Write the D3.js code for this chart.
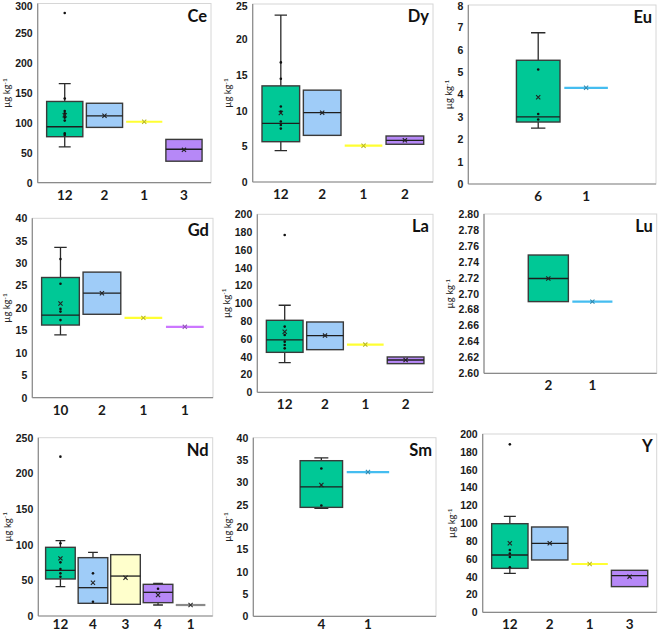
<!DOCTYPE html>
<html lang="en">
<head>
<meta charset="UTF-8">
<title>REE box plots</title>
<script src="https://cdn.jsdelivr.net/npm/d3@7"></script>
<style>
  body { margin: 0; background: #fff; }
  svg { display: block; font-family: Lato, "Open Sans", sans-serif; }
  .tick text { font-size: 10.5px; font-weight: 700; fill: #1a1a1a; }
  .xlab { font-size: 13.5px; font-weight: 700; fill: #1a1a1a; text-anchor: middle; }
  .title { font-size: 16.5px; font-weight: 700; fill: #111; text-anchor: end; }
  .ylab { font-size: 9.5px; fill: #222; text-anchor: middle; }
  .frame { fill: none; stroke: #d6d6d6; stroke-width: 1; }
  .axis-line { stroke: #8a8a8a; stroke-width: 1.2; }
  .box { stroke: #3a3a3a; stroke-width: 1.4; }
  .whisker { stroke: #2a2a2a; stroke-width: 1.3; fill: none; }
  .median { stroke: #1e1e1e; stroke-width: 1.3; }
  .pt { fill: #111; }
</style>
</head>
<body>
<div id="chart"></div>
<script>
// ---- data ----
// box = [whisker low, Q1, median, Q3, whisker high]; single value = one sample
var ceLabels = ["12", "2", "1", "3"];
var ceBoxes = [[60, 77, 93.7, 136, 166], [92.6, 92.6, 112, 133, 133], [102], [36, 36, 56, 72.5, 72.5]];
var ceMeans = [113, 112, 102, 55];
var cePoints = [[284, 141, 120, 116, 112, 109, 104, 82.5, 80], [], [], []];
var ceTicks = [0, 50, 100, 150, 200, 250, 300];

var dyLabels = ["12", "2", "1", "2"];
var dyBoxes = [[4.4, 5.66, 8.24, 13.5, 23.45], [6.55, 6.55, 9.74, 12.9, 12.9], [5.1], [5.3, 5.3, 5.85, 6.46, 6.46]];
var dyMeans = [9.7, 9.74, 5.1, 5.85];
var dyPoints = [[16.8, 14.5, 10.6, 9.9, 8.5, 8.0, 7.5], [], [], []];
var dyTicks = [0, 5, 10, 15, 20, 25];

var euLabels = ["6", "1"];
var euBoxes = [[2.5, 2.77, 3.0, 5.53, 6.76], [4.3]];
var euMeans = [3.88, 4.3];
var euPoints = [[5.12, 3.13, 2.88], []];
var euTicks = [0, 1, 2, 3, 4, 5, 6, 7, 8];

var gdLabels = ["10", "2", "1", "1"];
var gdBoxes = [[14.0, 16.2, 18.4, 26.8, 33.5], [18.6, 18.6, 23.3, 28.0, 28.0], [17.8], [15.8]];
var gdMeans = [21.0, 23.3, 17.8, 15.8];
var gdPoints = [[30.9, 25.4, 19.8, 19.2, 17.3], [], [], []];
var gdTicks = [0, 5, 10, 15, 20, 25, 30, 35, 40];

var laLabels = ["12", "2", "1", "2"];
var laBoxes = [[33.3, 44.9, 58.8, 80.9, 97.8], [47.9, 47.9, 63.7, 79, 79], [53.6], [32.2, 32.2, 36.3, 39.7, 39.7]];
var laMeans = [68, 63.7, 53.6, 36.3];
var laPoints = [[176.8, 73.8, 64.4, 56.9, 53.2, 49.4], [], [], []];
var laTicks = [0, 20, 40, 60, 80, 100, 120, 140, 160, 180, 200];

var luLabels = ["2", "1"];
var luBoxes = [[2.690, 2.690, 2.719, 2.7485, 2.7485], [2.690]];
var luMeans = [2.719, 2.690];
var luPoints = [[], []];
var luTicks = [2.60, 2.62, 2.64, 2.66, 2.68, 2.70, 2.72, 2.74, 2.76, 2.78, 2.80];

var ndLabels = ["12", "4", "3", "4", "1"];
var ndBoxes = [[41.1, 51.9, 64, 96.3, 105.6], [17.8, 17.8, 39.7, 81.8, 89.3], [16.4, 16.4, 56, 86, 86], [15.4, 18.7, 33.2, 44.4, 45.8], [15.4]];
var ndMeans = [80.8, 46.7, 53.7, 29.4, 15.4];
var ndPoints = [[223.4, 101.9, 75.2, 65.9, 59.8, 55.1], [59.8, 20], [], [38.3], []];
var ndTicks = [0, 50, 100, 150, 200, 250];

var smLabels = ["4", "1"];
var smBoxes = [[24.2, 24.4, 29.0, 34.85, 35.5], [32.3]];
var smMeans = [29.4, 32.3];
var smPoints = [[33.1, 24.8], []];
var smTicks = [0, 5, 10, 15, 20, 25, 30, 35, 40];

var yLabels = ["12", "2", "1", "3"];
var yBoxes = [[43.7, 49.3, 64.3, 99.4, 107.7], [58.7, 58.7, 77.4, 95.7, 95.7], [54.2], [28.8, 28.8, 41.1, 47.1, 47.1]];
var yMeans = [77.4, 77.4, 54.2, 40];
var yPoints = [[188.4, 69.9, 66, 62, 50.5], [], [], []];
var yTicks = [0, 20, 40, 60, 80, 100, 120, 140, 160, 180, 200];

// ---- styling / layout ----
var fills = {
    green: "#00c896", blue: "#9fccf8", yellow: "#ffff33", purple: "#b688f7",
    lilac: "#cc77ff", cyan: "#45bdf0", gray: "#8a8a8a", pale: "#ffffcc"
};

var panels = [
    { name: "Ce", labels: ceLabels, boxes: ceBoxes, means: ceMeans, points: cePoints, ticks: ceTicks,
      colors: ["green", "blue", "yellow", "purple"], rect: [37.7, 3.5, 211, 182.7] },
    { name: "Dy", labels: dyLabels, boxes: dyBoxes, means: dyMeans, points: dyPoints, ticks: dyTicks,
      colors: ["green", "blue", "yellow", "purple"], rect: [252.7, 4, 433, 182] },
    { name: "Eu", labels: euLabels, boxes: euBoxes, means: euMeans, points: euPoints, ticks: euTicks,
      colors: ["green", "cyan"], rect: [468.3, 5, 656, 184] },
    { name: "Gd", labels: gdLabels, boxes: gdBoxes, means: gdMeans, points: gdPoints, ticks: gdTicks,
      colors: ["green", "blue", "yellow", "lilac"], rect: [32.3, 218.3, 213, 397.7] },
    { name: "La", labels: laLabels, boxes: laBoxes, means: laMeans, points: laPoints, ticks: laTicks,
      colors: ["green", "blue", "yellow", "purple"], rect: [257.3, 214.3, 433, 392.3] },
    { name: "Lu", labels: luLabels, boxes: luBoxes, means: luMeans, points: luPoints, ticks: luTicks,
      colors: ["green", "cyan"], rect: [484, 214, 656.7, 373.3], fmt: ".2f" },
    { name: "Nd", labels: ndLabels, boxes: ndBoxes, means: ndMeans, points: ndPoints, ticks: ndTicks,
      colors: ["green", "blue", "pale", "purple", "gray"], rect: [38.3, 437.7, 212.7, 616] },
    { name: "Sm", labels: smLabels, boxes: smBoxes, means: smMeans, points: smPoints, ticks: smTicks,
      colors: ["green", "cyan"], rect: [253.3, 437.7, 436, 616.3] },
    { name: "Y", labels: yLabels, boxes: yBoxes, means: yMeans, points: yPoints, ticks: yTicks,
      colors: ["green", "blue", "yellow", "purple"], rect: [482.7, 434, 656.7, 612.3] }
];

var svg = d3.select("#chart").append("svg")
    .attr("width", 660)
    .attr("height", 633);

panels.forEach(drawPanel);

function meanMark(g, cx, cy, color) {
    var s = 2.1;
    g.append("path")
        .attr("d", "M" + (cx - s) + "," + (cy - s) + "L" + (cx + s) + "," + (cy + s) +
                   "M" + (cx - s) + "," + (cy + s) + "L" + (cx + s) + "," + (cy - s))
        .attr("stroke", color)
        .attr("stroke-width", 1.1);
}

function drawPanel(p) {
    var l = p.rect[0], t = p.rect[1], r = p.rect[2], b = p.rect[3];
    var g = svg.append("g").attr("class", "panel");

    var y = d3.scaleLinear().domain(d3.extent(p.ticks)).range([b, t]);
    var x = d3.scalePoint()
        .domain(d3.range(p.labels.length))
        .range([l, r])
        .padding(p.labels.length == 2 ? 1.46 : 0.68);
    var bw = x.step() * 0.91;

    g.append("rect").attr("class", "frame")
        .attr("x", l).attr("y", t).attr("width", r - l).attr("height", b - t);

    var ax = g.append("g")
        .attr("transform", "translate(" + l + ",0)")
        .call(d3.axisLeft(y).tickValues(p.ticks).tickSize(0).tickPadding(5)
            .tickFormat(p.fmt ? d3.format(p.fmt) : d3.format("d")));
    ax.select(".domain").remove();
    // keep the top label inside the picture
    ax.selectAll(".tick text").attr("dy", function(d) {
        return y(d) < 6 ? (6 - y(d) + 3.5) + "px" : "0.32em";
    });

    g.append("line").attr("class", "axis-line")
        .attr("x1", l).attr("x2", l).attr("y1", t).attr("y2", b);
    g.append("line").attr("class", "axis-line")
        .attr("x1", l).attr("x2", r).attr("y1", b).attr("y2", b);

    // y axis title, placed left of the widest tick label
    var maxW = 0;
    ax.selectAll("text").each(function() {
        maxW = Math.max(maxW, this.getBBox().width);
    });
    var lx = l - 5 - maxW - 5;
    var ly = (t + b) / 2;
    var yl = g.append("text").attr("class", "ylab")
        .attr("transform", "translate(" + lx + "," + ly + ") rotate(-90)");
    yl.append("tspan").text("µg kg");
    yl.append("tspan").attr("font-size", "6.5px").attr("dy", "-0.5em").text("-1");

    g.append("text").attr("class", "title")
        .attr("x", r - 4).attr("y", t + 18)
        .text(p.name);

    g.selectAll(".xlab").data(p.labels).enter()
        .append("text").attr("class", "xlab")
        .attr("x", function(d, i) { return x(i); })
        .attr("y", Math.min(b + 17, 628.5))
        .text(function(d) { return d; });

    p.boxes.forEach(function(bx, i) {
        var cx = x(i);
        var col = fills[p.colors[i]];
        if (bx.length == 1) {
            g.append("line")
                .attr("x1", cx - bw / 2).attr("x2", cx + bw / 2)
                .attr("y1", y(bx[0])).attr("y2", y(bx[0]))
                .attr("stroke", col).attr("stroke-width", 2.2);
            var mc = p.colors[i] == "gray" ? "#333" : d3.color(col).darker(0.9);
            meanMark(g, cx, y(p.means[i]), mc);
            return;
        }
        var cap = bw * 0.33;
        if (bx[4] > bx[3]) {
            g.append("path").attr("class", "whisker")
                .attr("d", "M" + cx + "," + y(bx[3]) + "V" + y(bx[4]) +
                           "M" + (cx - cap / 2) + "," + y(bx[4]) + "H" + (cx + cap / 2));
        }
        if (bx[0] < bx[1]) {
            g.append("path").attr("class", "whisker")
                .attr("d", "M" + cx + "," + y(bx[1]) + "V" + y(bx[0]) +
                           "M" + (cx - cap / 2) + "," + y(bx[0]) + "H" + (cx + cap / 2));
        }
        g.append("rect").attr("class", "box")
            .attr("x", cx - bw / 2).attr("width", bw)
            .attr("y", y(bx[3])).attr("height", y(bx[1]) - y(bx[3]))
            .attr("fill", col);
        g.append("line").attr("class", "median")
            .attr("x1", cx - bw / 2).attr("x2", cx + bw / 2)
            .attr("y1", y(bx[2])).attr("y2", y(bx[2]));

        g.selectAll(null).data(p.points[i]).enter()
            .append("circle").attr("class", "pt")
            .attr("cx", cx).attr("cy", function(d) { return y(d); })
            .attr("r", 1.3);

        meanMark(g, cx, y(p.means[i]), "#222");
    });
}
</script>
</body>
</html>
